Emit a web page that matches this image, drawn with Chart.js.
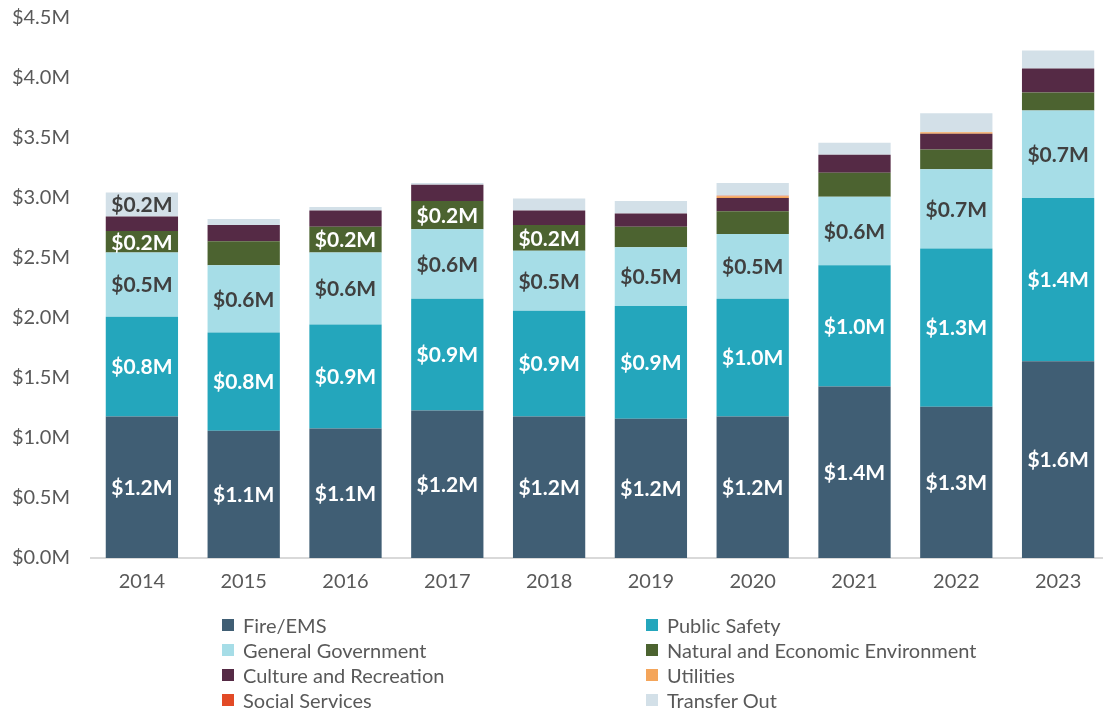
<!DOCTYPE html>
<html lang="en">
<head>
    <meta charset="UTF-8">
    <title>Expenditures by Function</title>
    <script src="https://cdn.jsdelivr.net/npm/chart.js"></script>
    <style>
        html, body { margin: 0; padding: 0; background: #fff; }
        .wrap { position: relative; width: 1103px; height: 713px; overflow: hidden; }
        #spendChart { position: absolute; left: 0; top: 0; }
        .legend {
            position: absolute; left: 222px; top: 612px;
            display: grid; grid-template-columns: 424px auto;
            font-family: Lato, sans-serif; font-size: 20px; color: #595959;
        }
        .legend div { display: flex; align-items: center; height: 25px; white-space: nowrap; }
        .legend span.box { width: 12px; height: 12px; margin-right: 9px; display: inline-block; }
    </style>
</head>
<body>
    <div class="wrap">
        <canvas id="spendChart" width="1109" height="713"></canvas>
        <div class="legend" id="legend"></div>
    </div>

    <script>
        // Spending by function, millions of dollars
        const years = ['2014', '2015', '2016', '2017', '2018', '2019', '2020', '2021', '2022', '2023'];
        const fireEms        = [1.18, 1.06, 1.08, 1.23, 1.18, 1.16, 1.18, 1.43, 1.26, 1.64];
        const publicSafety   = [0.83, 0.82, 0.865, 0.93, 0.88, 0.94, 0.98, 1.01, 1.32, 1.36];
        const generalGov     = [0.535, 0.56, 0.60, 0.58, 0.50, 0.49, 0.54, 0.57, 0.66, 0.73];
        const naturalEcon    = [0.18, 0.20, 0.215, 0.235, 0.215, 0.17, 0.19, 0.20, 0.165, 0.15];
        const cultureRec     = [0.12, 0.135, 0.135, 0.135, 0.12, 0.11, 0.11, 0.15, 0.13, 0.20];
        const utilities      = [0, 0, 0, 0, 0, 0, 0.015, 0, 0.012, 0];
        const socialServices = [0, 0, 0, 0, 0, 0, 0.004, 0, 0, 0];
        const transferOut    = [0.20, 0.05, 0.03, 0.015, 0.10, 0.105, 0.105, 0.10, 0.16, 0.15];

        const yTicks = [0, 0.5, 1.0, 1.5, 2.0, 2.5, 3.0, 3.5, 4.0, 4.5];

        // years whose segment carries a value label (null = every year)
        const labelYears = {
            'Fire/EMS': null,
            'Public Safety': null,
            'General Government': null,
            'Natural and Economic Environment': ['2014', '2016', '2017', '2018'],
            'Transfer Out': ['2014']
        };

        const fmt = v => '$' + v.toFixed(1) + 'M';

        // value labels drawn in the middle of each segment
        const segmentLabels = {
            id: 'segmentLabels',
            afterDatasetsDraw(chart) {
                const ctx = chart.ctx;
                ctx.save();
                ctx.font = 'bold 21px Lato, sans-serif';
                ctx.textAlign = 'center';
                ctx.textBaseline = 'middle';
                chart.data.datasets.forEach((ds, i) => {
                    if (!(ds.label in labelYears)) return;
                    const only = labelYears[ds.label];
                    chart.getDatasetMeta(i).data.forEach((bar, j) => {
                        if (only && !only.includes(years[j])) return;
                        ctx.fillStyle = ds.labelColor;
                        ctx.fillText(fmt(ds.data[j]), bar.x, (bar.y + bar.base) / 2 + 1);
                    });
                });
                ctx.restore();
            }
        };

        const ctx = document.getElementById('spendChart').getContext('2d');
        const myChart = new Chart(ctx, {
            type: 'bar',
            data: {
                labels: years,
                datasets: [
                    { label: 'Fire/EMS', data: fireEms, backgroundColor: '#405E74', labelColor: '#ffffff' },
                    { label: 'Public Safety', data: publicSafety, backgroundColor: '#24A6BC', labelColor: '#ffffff' },
                    { label: 'General Government', data: generalGov, backgroundColor: '#A6DDE7', labelColor: '#404040' },
                    { label: 'Natural and Economic Environment', data: naturalEcon, backgroundColor: '#4C6330', labelColor: '#ffffff' },
                    { label: 'Culture and Recreation', data: cultureRec, backgroundColor: '#552A45' },
                    { label: 'Utilities', data: utilities, backgroundColor: '#F4A55A' },
                    { label: 'Social Services', data: socialServices, backgroundColor: '#E24A26' },
                    { label: 'Transfer Out', data: transferOut, backgroundColor: '#D3E0E8', labelColor: '#404040' }
                ]
            },
            options: {
                responsive: false,
                devicePixelRatio: 1,
                animation: false,
                layout: { padding: { top: 18, right: 0, left: 0, bottom: 0 } },
                datasets: { bar: { barPercentage: 0.71, categoryPercentage: 1, borderWidth: 0 } },
                plugins: { legend: { display: false }, tooltip: { enabled: false } },
                scales: {
                    x: {
                        stacked: true,
                        grid: { display: false, drawTicks: false },
                        border: { display: true, color: '#D9D9D9', width: 2 },
                        ticks: { color: '#595959', font: { family: 'Lato, sans-serif', size: 20 }, padding: 12 },
                        afterFit(scale) { scale.height = 155; }
                    },
                    y: {
                        stacked: true,
                        min: 0,
                        max: 4.5,
                        afterBuildTicks(scale) { scale.ticks = yTicks.map(v => ({ value: v })); },
                        grid: { display: false, drawTicks: false },
                        border: { display: false },
                        ticks: {
                            color: '#595959',
                            font: { family: 'Lato, sans-serif', size: 20 },
                            padding: 21,
                            callback: v => fmt(v)
                        },
                        afterFit(scale) {
                            scale.width = 91;
                            scale.paddingTop = 0;
                            scale.paddingBottom = 0;
                        }
                    }
                }
            },
            plugins: [segmentLabels]
        });

        // two-column legend built from the chart's datasets
        const legendEl = document.getElementById('legend');
        myChart.data.datasets.forEach(ds => {
            const item = document.createElement('div');
            const box = document.createElement('span');
            box.className = 'box';
            box.style.background = ds.backgroundColor;
            item.appendChild(box);
            item.appendChild(document.createTextNode(ds.label));
            legendEl.appendChild(item);
        });
    </script>
</body>
</html>
